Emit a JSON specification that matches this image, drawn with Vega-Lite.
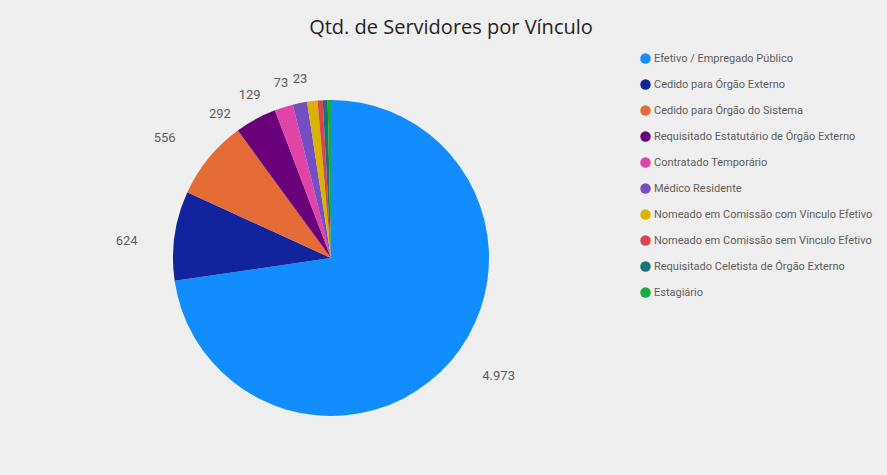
{
  "$schema": "https://vega.github.io/schema/vega-lite/v6.json",
  "width": 642,
  "height": 432,
  "padding": {"left": 10, "top": 18, "right": 40, "bottom": 10},
  "background": "#efefef",
  "title": {
    "text": "Qtd. de Servidores por Vínculo",
    "font": "Open Sans",
    "fontSize": 20,
    "fontWeight": "normal",
    "color": "#252423",
    "anchor": "middle",
    "dx": 120,
    "offset": 4
  },
  "data": {
    "values": [
      {"categoria": "Efetivo / Empregado Público", "valor": 4973, "rotulo": "4.973"},
      {"categoria": "Cedido para Órgão Externo", "valor": 624, "rotulo": "624"},
      {"categoria": "Cedido para Órgão do Sistema", "valor": 556, "rotulo": "556"},
      {"categoria": "Requisitado Estatutário de Órgão Externo", "valor": 292, "rotulo": "292"},
      {"categoria": "Contratado Temporário", "valor": 129, "rotulo": "129"},
      {"categoria": "Médico Residente", "valor": 100, "rotulo": ""},
      {"categoria": "Nomeado em Comissão com Vínculo Efetivo", "valor": 73, "rotulo": "73"},
      {"categoria": "Nomeado em Comissão sem Vínculo Efetivo", "valor": 36, "rotulo": ""},
      {"categoria": "Requisitado Celetista de Órgão Externo", "valor": 34, "rotulo": ""},
      {"categoria": "Estagiário", "valor": 23, "rotulo": "23"}
    ]
  },
  "encoding": {
    "theta": {"field": "valor", "type": "quantitative", "stack": true},
    "order": {"field": "valor", "type": "quantitative", "sort": "descending"},
    "color": {
      "field": "categoria",
      "type": "nominal",
      "scale": {
        "domain": ["Efetivo / Empregado Público", "Cedido para Órgão Externo", "Cedido para Órgão do Sistema", "Requisitado Estatutário de Órgão Externo", "Contratado Temporário", "Médico Residente", "Nomeado em Comissão com Vínculo Efetivo", "Nomeado em Comissão sem Vínculo Efetivo", "Requisitado Celetista de Órgão Externo", "Estagiário"],
        "range": ["#118DFF", "#12239E", "#E66C37", "#6B007B", "#E044A7", "#744EC2", "#D9B300", "#D64550", "#197278", "#1AAB40"]
      },
      "legend": {
        "orient": "none",
        "legendX": 630,
        "legendY": 11,
        "title": null,
        "symbolType": "circle",
        "symbolSize": 110,
        "symbolStrokeWidth": 0,
        "labelFont": "Roboto",
        "labelFontSize": 11,
        "labelColor": "#605E5C",
        "labelLimit": 300,
        "rowPadding": 14,
        "labelOffset": 3
      }
    }
  },
  "layer": [
    {"mark": {"type": "arc", "outerRadius": 158, "stroke": null}},
    {
      "mark": {"type": "text", "radius": {"expr": "datum.valor > 500 ? 205 : 182"}, "thetaOffset": {"expr": "datum.valor > 4000 ? -0.1 : datum.valor > 500 ? -0.06 : -0.16"}, "font": "Roboto", "fontSize": 13, "color": "#605E5C"},
      "encoding": {"text": {"field": "rotulo", "type": "nominal"}, "color": {"value": "#605E5C"}}
    }
  ],
  "config": {"view": {"stroke": null}}
}
